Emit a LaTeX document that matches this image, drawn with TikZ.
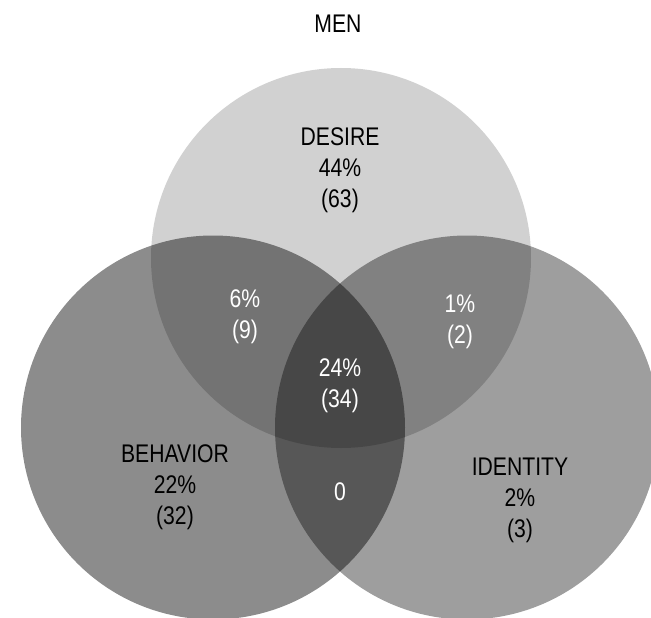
\documentclass[tikz,border=0pt]{standalone}
\usepackage{fontspec}
\setmainfont{Liberation Sans}[FakeStretch=0.83]
\usetikzlibrary{positioning}

\begin{document}
\begin{tikzpicture}[
        x=1pt, y=-1pt,
        venn/.style={fill=black, fill opacity=#1},
        lbl/.style={align=center, inner sep=0pt, font=\fontsize{25.5}{31}\selectfont, text=black},
        inlbl/.style={lbl, text=white}
    ]
        \useasboundingbox (0,0) rectangle (651,618);

        % Circles
        \fill[venn=0.18] (341,258) circle[radius=190];
        \fill[venn=0.45] (213,427.5) circle[radius=192];
        \fill[venn=0.38] (467,427.5) circle[radius=192];

        % Title
        \node[lbl] (men) at (338,24) {MEN};

        % Sets
        \node[lbl] (desire) at (340,170) {DESIRE\\44\%\\(63)};
        \node[lbl] (behavior) at (175,487) {BEHAVIOR\\22\%\\(32)};
        \node[lbl] (identity) at (520,500) {IDENTITY\\2\%\\(3)};

        % Overlaps
        \node[inlbl] (desbeh) at (245,317) {6\%\\(9)};
        \node[inlbl] (desid) at (460,322) {1\%\\(2)};
        \node[inlbl] (allthree) at (340,386) {24\%\\(34)};
        \node[inlbl] (behid) at (340,492) {0};
    \end{tikzpicture}
\end{document}
